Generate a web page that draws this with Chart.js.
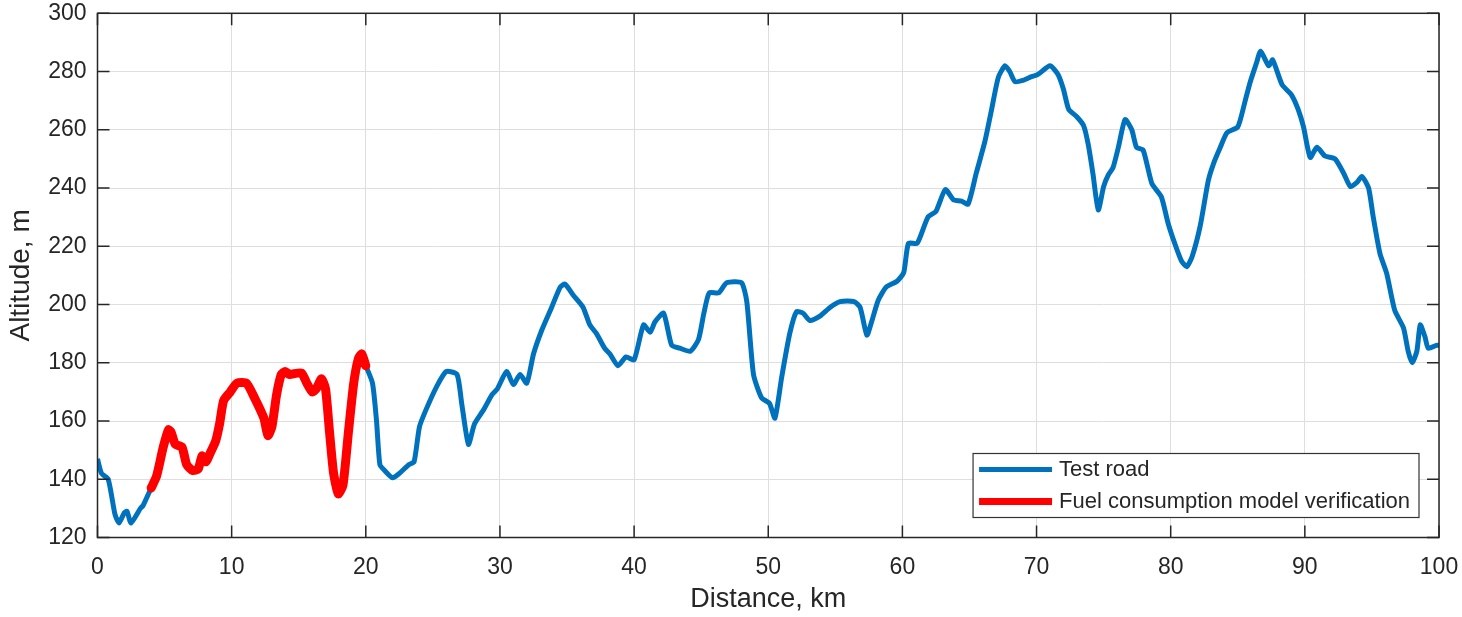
<!DOCTYPE html>
<html>
<head>
<meta charset="utf-8">
<script src="https://cdn.jsdelivr.net/npm/chart.js@4.4.1/dist/chart.umd.min.js"></script>
<style>
  html, body { margin: 0; padding: 0; background: #fff; }
</style>
</head>
<body>
<canvas id="altChart" width="1462" height="617"></canvas>
<script>
// road profile (km, m)
const roadKm = [
  0, 0.3, 0.8, 1.3, 1.6, 2.0, 2.2, 2.5, 3.2, 3.4, 4.0,
  4.4, 4.9, 5.3, 5.5, 5.8, 6.3, 6.65, 7.1, 7.5, 7.8, 8.1, 8.4, 8.8, 9.1, 9.4, 9.9,
  10.4, 11.1, 11.7, 12.4, 12.7, 13.0, 13.35, 13.7, 14.0, 14.3, 15.2, 15.6, 16.0, 16.3,
  16.7, 17.0, 17.3, 17.6, 17.95, 18.3, 18.7, 19.1, 19.45, 19.7, 20.0,
  20.5, 20.8, 21.05, 21.4, 22.0, 22.5, 23.2, 23.6, 24.0, 24.5, 25.3, 26.0, 26.8, 27.15,
  27.65, 28.1, 28.8, 29.4, 29.8, 30.5, 31.0, 31.5, 32.0, 32.5, 33.1, 33.85, 34.5, 34.85,
  35.5, 36.2, 36.7, 37.2, 37.8, 38.2, 38.8, 39.4, 40.0,
  40.7, 41.2, 41.55, 42.2, 42.8, 43.4, 44.2, 44.8, 45.2, 45.6, 46.3, 46.9, 48.0, 48.4,
  48.9, 49.5, 50.1, 50.5, 51.0, 51.6, 52.1, 52.6, 53.1, 53.85, 54.6, 55.35, 56.4, 56.85,
  57.35, 57.7, 58.2, 58.8, 59.6, 60.1,
  60.45, 61.1, 61.9, 62.5, 63.2, 63.8, 64.4, 64.9, 65.5, 66.15, 66.65, 67.15, 67.65, 68.0,
  68.4, 69.0, 69.5, 70.1, 71.0, 71.6, 72.0, 72.4, 73.0, 73.5, 73.85, 74.2, 74.6, 75.0,
  75.35, 75.7, 76.1, 76.6, 77.1, 77.45, 77.95, 78.6, 79.3, 79.8,
  80.3, 80.8, 81.2, 81.6, 82.2, 82.8, 83.2, 83.7, 84.2, 85.0, 85.5, 85.9, 86.4, 86.7,
  87.3, 87.6, 88.3, 89.0, 89.5, 89.9, 90.4, 90.9, 91.5, 92.25, 92.9, 93.4, 93.9, 94.25,
  94.75, 95.1, 95.6, 96.1, 96.7, 97.35, 97.7, 98.0, 98.35, 98.6, 98.95, 99.2, 99.8, 100
];
const roadAlt = [
  147, 142, 140, 128, 125, 128.5, 129, 125, 130, 131, 137,
  141, 151, 157, 156, 152, 151, 145, 143, 143.5, 148, 146, 149, 153, 159, 167, 170,
  173, 173, 168, 161, 155, 158, 169, 176, 177, 176, 176.5, 173, 170, 171,
  174.5, 171, 156, 142, 135, 138, 156, 173, 181.5, 183, 179,
  173, 160, 145, 143, 140.5, 142, 145, 146, 158, 164, 172, 177, 176, 166,
  152, 159, 164, 169, 171, 177, 172.5, 176, 173, 183, 191, 199, 206, 207,
  203, 199, 193, 190, 185, 183, 179, 182, 181,
  193, 190.5, 194, 197, 186, 185, 184, 188, 197, 204, 204, 207.5, 207.5, 201,
  176, 168, 166, 161, 175, 190, 197.5, 197, 194.5, 196, 199, 201, 201, 199,
  189.5, 194, 201.5, 206, 208, 211,
  221, 221, 230, 232, 239.5, 236, 235.5, 234.5, 245, 256, 267, 278, 282, 280,
  276.5, 277, 278, 279, 282, 279, 274, 267, 264.5, 261.5, 255, 245, 232.5, 240.5,
  244.5, 247, 254, 263.5, 260, 254, 253, 241.5, 237, 228,
  221, 215, 213, 216.5, 227, 242.5, 248.5, 254, 259, 261, 269, 276, 283, 287,
  282, 284, 275.5, 272, 267, 261, 250.5, 254, 251, 250, 245, 240.5, 242, 244,
  240, 230, 217.5, 210.7, 198, 192, 184, 180, 184, 193, 189, 185, 186, 186
];
// stretch used for the fuel consumption model check
const verifFromKm = 4;
const verifToKm = 20;

const seriesNames = ['Test road', 'Fuel consumption model verification'];
const seriesColors = ['#0072BD', '#FF0000'];
const xTicks = [0, 10, 20, 30, 40, 50, 60, 70, 80, 90, 100];
const yTicks = [120, 140, 160, 180, 200, 220, 240, 260, 280, 300];

const fontFamily = '"Liberation Sans", Arial, Helvetica, sans-serif';
const ink = '#262626';

const roadPts = roadKm.map((x, i) => ({ x: x, y: roadAlt[i] }));
const verifPts = roadPts.filter(p => p.x >= verifFromKm && p.x <= verifToKm);

// MATLAB style box with inward ticks on all four sides
const boxAxes = {
  id: 'boxAxes',
  afterDatasetsDraw(chart) {
    const { ctx, chartArea: a, scales } = chart;
    const tl = 12;
    ctx.save();
    ctx.strokeStyle = ink;
    ctx.lineWidth = 1.5;
    ctx.beginPath();
    xTicks.forEach(v => {
      const px = scales.x.getPixelForValue(v);
      ctx.moveTo(px, a.bottom); ctx.lineTo(px, a.bottom - tl);
      ctx.moveTo(px, a.top); ctx.lineTo(px, a.top + tl);
    });
    yTicks.forEach(v => {
      const py = scales.y.getPixelForValue(v);
      ctx.moveTo(a.left, py); ctx.lineTo(a.left + tl, py);
      ctx.moveTo(a.right, py); ctx.lineTo(a.right - tl, py);
    });
    ctx.stroke();
    ctx.strokeRect(a.left, a.top, a.right - a.left, a.bottom - a.top);
    ctx.restore();
  }
};

// boxed legend in the lower right corner
const boxLegend = {
  id: 'boxLegend',
  afterDraw(chart) {
    const { ctx, chartArea: a } = chart;
    const sets = chart.data.datasets;
    ctx.save();
    ctx.font = '22px ' + fontFamily;
    const textW = Math.max(...sets.map(d => ctx.measureText(d.label).width));
    const lineLen = 73, rowH = 32;
    const w = 6 + lineLen + 7 + textW + 9;
    const h = rowH * sets.length;
    const x0 = a.right - 20 - w;
    const y0 = a.bottom - 20 - h;
    ctx.fillStyle = '#fff';
    ctx.fillRect(x0, y0, w, h);
    ctx.strokeStyle = '#333';
    ctx.lineWidth = 1.2;
    ctx.strokeRect(x0, y0, w, h);
    sets.forEach((d, i) => {
      const cy = y0 + rowH / 2 + i * rowH;
      ctx.strokeStyle = d.borderColor;
      ctx.lineWidth = Math.min(d.borderWidth, 7);
      ctx.beginPath();
      ctx.moveTo(x0 + 6, cy);
      ctx.lineTo(x0 + 6 + lineLen, cy);
      ctx.stroke();
      ctx.fillStyle = ink;
      ctx.textBaseline = 'middle';
      ctx.fillText(d.label, x0 + 6 + lineLen + 7, cy);
    });
    ctx.restore();
  }
};

const chart = new Chart(document.getElementById('altChart').getContext('2d'), {
  type: 'line',
  data: {
    datasets: [
      {
        label: seriesNames[0],
        data: roadPts,
        borderColor: seriesColors[0],
        borderWidth: 5,
        pointRadius: 0,
        tension: 0.2,
        fill: false,
        order: 1
      },
      {
        label: seriesNames[1],
        data: verifPts,
        borderColor: seriesColors[1],
        borderWidth: 9,
        borderCapStyle: 'round',
        borderJoinStyle: 'round',
        pointRadius: 0,
        tension: 0.2,
        fill: false,
        order: 0
      }
    ]
  },
  options: {
    responsive: false,
    animation: false,
    devicePixelRatio: 1,
    layout: { padding: { top: 13.3, right: 23, left: 0, bottom: 0 } },
    plugins: {
      legend: { display: false },
      tooltip: { enabled: false }
    },
    scales: {
      x: {
        type: 'linear',
        min: 0,
        max: 100,
        afterBuildTicks: s => { s.ticks = xTicks.map(v => ({ value: v })); },
        afterFit: s => { s.height = 79.5; s.paddingLeft = 0; s.paddingRight = 0; },
        grid: { color: '#dedede', lineWidth: 1, drawTicks: false },
        border: { display: false },
        ticks: { font: { size: 23, family: fontFamily }, color: ink, padding: 16, maxRotation: 0 },
        title: {
          display: true,
          text: 'Distance, km',
          color: ink,
          font: { size: 27, family: fontFamily },
          padding: { top: 0, bottom: 1 }
        }
      },
      y: {
        type: 'linear',
        min: 120,
        max: 300,
        afterBuildTicks: s => { s.ticks = yTicks.map(v => ({ value: v })); },
        afterFit: s => { s.width = 97.5; s.paddingTop = 0; s.paddingBottom = 0; },
        grid: { color: '#dedede', lineWidth: 1, drawTicks: false },
        border: { display: false },
        ticks: { font: { size: 23, family: fontFamily }, color: ink, padding: 11 },
        title: {
          display: true,
          text: 'Altitude, m',
          color: ink,
          font: { size: 28, family: fontFamily },
          padding: { top: 4, bottom: 0 }
        }
      }
    }
  },
  plugins: [boxAxes, boxLegend]
});
</script>
</body>
</html>
